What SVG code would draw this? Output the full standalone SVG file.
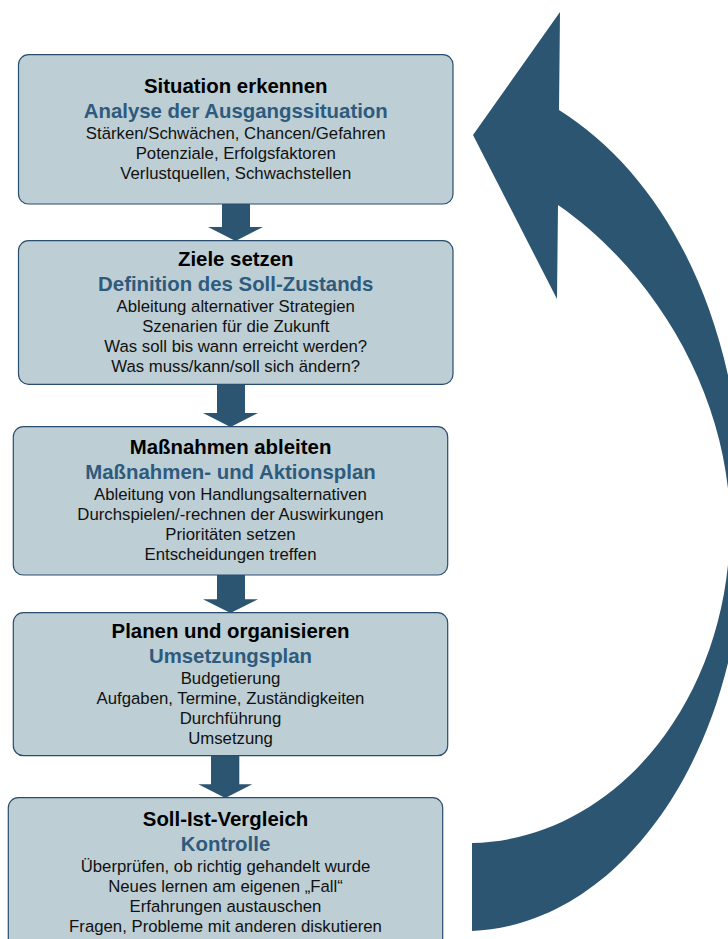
<svg xmlns="http://www.w3.org/2000/svg" width="728" height="939" viewBox="0 0 728 939">
<style>
.box{fill:#bdced4;stroke:#2b4d70;stroke-width:1.2}
.arr{fill:#2c5571}
text{font-family:"Liberation Sans",Arial,sans-serif;text-anchor:middle}
.t{font-size:20.4px;font-weight:bold;fill:#000}
.s{font-size:20.4px;font-weight:bold;fill:#2e5b7d}
.b{font-size:16.75px;fill:#111}
</style>
<rect width="728" height="939" fill="#fff"/>
<g id="cycle-arrow">
<path class="arr" d="M559 110 L560 12 L473 135 L557 299 L558 205 C658 274 730 400 730 525 C730 701 614 840 472 843 L472 931 C622 925 744 750 744 527 C744 327 669 179 559 110 Z"/>
</g>
<g id="connectors">
<polygon class="arr" points="222,203 250,203 250,227 263,227 235.5,241 208,227 222,227"/>
<polygon class="arr" points="217,383 245,383 245,413 258,413 230.5,427 203,413 217,413"/>
<polygon class="arr" points="217,574 245,574 245,599.3 258,599.3 230.5,613 203,599.3 217,599.3"/>
<polygon class="arr" points="211,755 239.3,755 239.3,784.3 252.3,784.3 225.3,798 198.3,784.3 211,784.3"/>
</g>
<g id="node1">
<rect class="box" x="18.5" y="54.7" width="434.5" height="149.3" rx="10"/>
<text class="t" x="235.75" y="93">Situation erkennen</text>
<text class="s" x="235.75" y="117.5">Analyse der Ausgangssituation</text>
<text class="b" x="235.75" y="139">Stärken/Schwächen, Chancen/Gefahren</text>
<text class="b" x="235.75" y="159">Potenziale, Erfolgsfaktoren</text>
<text class="b" x="235.75" y="179">Verlustquellen, Schwachstellen</text>
</g>
<g id="node2">
<rect class="box" x="18.5" y="240.7" width="434.5" height="143.6" rx="10"/>
<text class="t" x="235.75" y="266">Ziele setzen</text>
<text class="s" x="235.75" y="291">Definition des Soll-Zustands</text>
<text class="b" x="235.75" y="312">Ableitung alternativer Strategien</text>
<text class="b" x="235.75" y="332">Szenarien für die Zukunft</text>
<text class="b" x="235.75" y="352">Was soll bis wann erreicht werden?</text>
<text class="b" x="235.75" y="372">Was muss/kann/soll sich ändern?</text>
</g>
<g id="node3">
<rect class="box" x="13.3" y="426.7" width="434.4" height="148.3" rx="10"/>
<text class="t" x="230.5" y="454">Maßnahmen ableiten</text>
<text class="s" x="230.5" y="479">Maßnahmen- und Aktionsplan</text>
<text class="b" x="230.5" y="500">Ableitung von Handlungsalternativen</text>
<text class="b" x="230.5" y="520">Durchspielen/-rechnen der Auswirkungen</text>
<text class="b" x="230.5" y="540">Prioritäten setzen</text>
<text class="b" x="230.5" y="560">Entscheidungen treffen</text>
</g>
<g id="node4">
<rect class="box" x="13.3" y="612.7" width="434.4" height="143" rx="10"/>
<text class="t" x="230.5" y="638">Planen und organisieren</text>
<text class="s" x="230.5" y="663">Umsetzungsplan</text>
<text class="b" x="230.5" y="684">Budgetierung</text>
<text class="b" x="230.5" y="704">Aufgaben, Termine, Zuständigkeiten</text>
<text class="b" x="230.5" y="724">Durchführung</text>
<text class="b" x="230.5" y="744">Umsetzung</text>
</g>
<g id="node5">
<rect class="box" x="8.3" y="797.7" width="434.4" height="160" rx="10"/>
<text class="t" x="225.5" y="826">Soll-Ist-Vergleich</text>
<text class="s" x="225.5" y="851">Kontrolle</text>
<text class="b" x="225.5" y="871.5">Überprüfen, ob richtig gehandelt wurde</text>
<text class="b" x="225.5" y="892">Neues lernen am eigenen „Fall“</text>
<text class="b" x="225.5" y="912">Erfahrungen austauschen</text>
<text class="b" x="225.5" y="932">Fragen, Probleme mit anderen diskutieren</text>
</g>
</svg>
